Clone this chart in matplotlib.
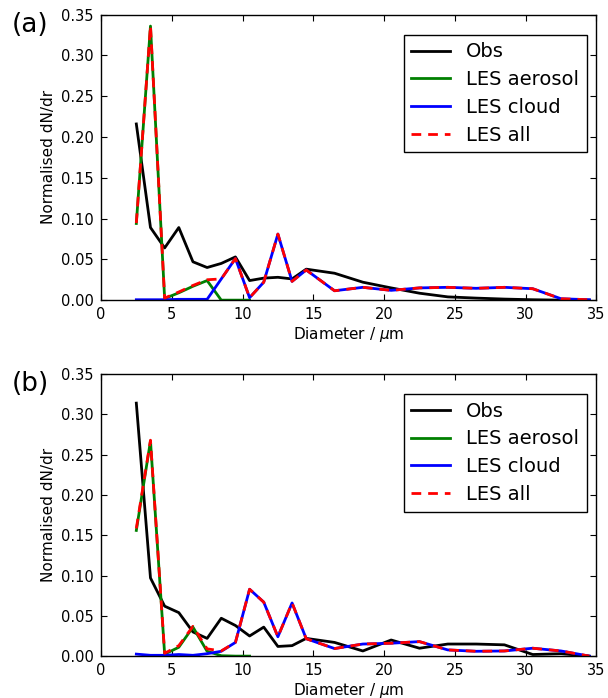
import numpy as np
import matplotlib
matplotlib.use("Agg")
import matplotlib.pyplot as plt

# bin centres (um)
diam = [2.5, 3.5, 4.5, 5.5, 6.5, 7.5, 8.5, 9.5, 10.5, 11.5, 12.5, 13.5, 14.5,
        16.5, 18.5, 20.5, 22.5, 24.5, 26.5, 28.5, 30.5, 32.5, 34.5]
diam_aer = diam[:9]

# panel (a)
obs_a = [0.216, 0.089, 0.064, 0.089, 0.047, 0.040, 0.045, 0.053, 0.024, 0.027, 0.028, 0.026, 0.038,
         0.033, 0.022, 0.015, 0.0085, 0.004, 0.0025, 0.0013, 0.0005, 0.0, 0.0]
aer_a = [0.094, 0.336, 0.002, 0.009, 0.017, 0.024, 0.0, 0.0, 0.0]
cld_a = [0.0005, 0.0005, 0.0005, 0.001, 0.001, 0.001, 0.026, 0.051, 0.003, 0.022, 0.081, 0.023, 0.037,
         0.0115, 0.0157, 0.012, 0.015, 0.0157, 0.0145, 0.0157, 0.014, 0.0017, 0.0005]

# panel (b)
obs_b = [0.314, 0.097, 0.062, 0.054, 0.030, 0.022, 0.047, 0.038, 0.025, 0.036, 0.012, 0.013, 0.022,
         0.017, 0.0064, 0.020, 0.0098, 0.015, 0.015, 0.014, 0.002, 0.003, 0.0]
aer_b = [0.156, 0.267, 0.0025, 0.011, 0.036, 0.006, 0.0005, 0.0, 0.0]
cld_b = [0.0025, 0.001, 0.001, 0.002, 0.001, 0.003, 0.006, 0.017, 0.083, 0.067, 0.024, 0.066, 0.0216,
         0.0094, 0.015, 0.016, 0.018, 0.0077, 0.006, 0.0064, 0.0098, 0.0064, 0.0]

panels = [("(a)", obs_a, aer_a, cld_a), ("(b)", obs_b, aer_b, cld_b)]

fig = plt.figure(figsize=(6.08, 6.98), dpi=100)
boxes = [[0.166, 0.570, 0.815, 0.409], [0.166, 0.060, 0.815, 0.404]]

for box, (lab, obs, aer, cld) in zip(boxes, panels):
    ax = fig.add_axes(box)
    tot = np.array(cld, dtype=float)
    tot[:len(aer)] += np.array(aer)
    ax.plot(diam, obs, color='k', lw=2, label='Obs')
    ax.plot(diam_aer, aer, color='g', lw=2, label='LES aerosol')
    ax.plot(diam, cld, color='b', lw=2, label='LES cloud')
    ax.plot(diam, tot, color='r', lw=2, ls=(0, (3.5, 2.5)), label='LES all')
    ax.set_xlim(0, 35)
    ax.set_ylim(0, 0.35)
    ax.set_xticks(np.arange(0, 36, 5))
    ax.set_yticks(np.arange(0, 0.351, 0.05))
    ax.yaxis.set_major_formatter(matplotlib.ticker.FormatStrFormatter('%.2f'))
    ax.tick_params(direction='in', top=True, right=True, length=4, labelsize=10.5, pad=5)
    ax.set_xlabel(r'Diameter / $\mu$m', fontsize=11, labelpad=2)
    ax.set_ylabel('Normalised dN/dr', fontsize=11)
    for s in ax.spines.values():
        s.set_linewidth(1.0)
    leg = ax.legend(loc='upper right', bbox_to_anchor=(0.98, 0.93), borderaxespad=0,
                    fontsize=14, fancybox=False, framealpha=1, edgecolor='k',
                    handlelength=2.0, labelspacing=0.45)
    leg.get_frame().set_linewidth(1.0)
    ax.text(-0.18, 0.965, lab, transform=ax.transAxes, fontsize=19, va='center', ha='left')

fig.savefig("out.png", dpi=100)
